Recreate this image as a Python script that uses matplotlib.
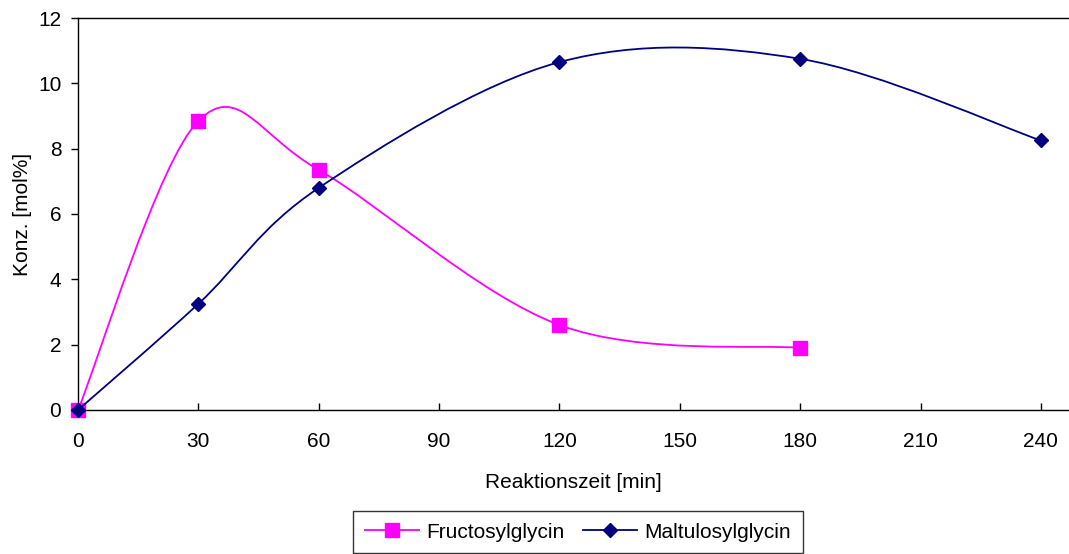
import matplotlib
matplotlib.use('Agg')
import matplotlib.pyplot as plt
from matplotlib.path import Path
from matplotlib.patches import PathPatch
from matplotlib.lines import Line2D

# data
zeit_fructo = [0, 30, 60, 120, 180]
konz_fructo = [0.0, 8.85, 7.35, 2.6, 1.9]
zeit_maltu = [0, 30, 60, 120, 180, 240]
konz_maltu = [0.0, 3.25, 6.8, 10.65, 10.75, 8.25]
x_ticks = [0, 30, 60, 90, 120, 150, 180, 210, 240]
y_ticks = [0, 2, 4, 6, 8, 10, 12]

plt.rcParams['font.family'] = ['Liberation Sans', 'DejaVu Sans']


def smooth_path(xs, ys):
    # Excel-like smoothed line: cubic bezier segments through every point
    pts = list(zip(xs, ys))
    n = len(pts)
    verts = [pts[0]]
    codes = [Path.MOVETO]
    for i in range(n - 1):
        p0 = pts[max(i - 1, 0)]
        p1 = pts[i]
        p2 = pts[i + 1]
        p3 = pts[min(i + 2, n - 1)]
        c1 = (p1[0] + (p2[0] - p0[0]) / 6, p1[1] + (p2[1] - p0[1]) / 6)
        c2 = (p2[0] - (p3[0] - p1[0]) / 6, p2[1] - (p3[1] - p1[1]) / 6)
        verts += [c1, c2, p2]
        codes += [Path.CURVE4] * 3
    return Path(verts, codes)


fig = plt.figure(figsize=(10.69, 5.54), dpi=100)
ax = fig.add_axes([0.073, 0.26, 0.927, 0.7075])

ax.add_patch(PathPatch(smooth_path(zeit_fructo, konz_fructo), fill=False,
                       edgecolor='#FF00FF', linewidth=1.3, zorder=2))
ax.plot(zeit_fructo, konz_fructo, linestyle='none', marker='s', markersize=10,
        color='#FF00FF', zorder=3, clip_on=False)
ax.add_patch(PathPatch(smooth_path(zeit_maltu, konz_maltu), fill=False,
                       edgecolor='#000080', linewidth=1.3, zorder=4))
ax.plot(zeit_maltu, konz_maltu, linestyle='none', marker='D', markersize=7.5,
        color='#000080', zorder=5, clip_on=False)

ax.set_xlim(0, 247)
ax.set_ylim(0, 12)
ax.set_xticks(x_ticks)
ax.set_yticks(y_ticks)
ax.tick_params(axis='x', labelsize=15, length=5, width=1, direction='in', pad=16)
ax.tick_params(axis='y', labelsize=15, length=5, width=1, direction='out', pad=7)
ax.spines['right'].set_visible(False)
for s in ['left', 'bottom', 'top']:
    ax.spines[s].set_linewidth(1)
ax.set_xlabel('Reaktionszeit [min]', fontsize=15, labelpad=16)
ax.set_ylabel('Konz. [mol%]', fontsize=15, labelpad=4)

handles = [
    Line2D([], [], color='#FF00FF', linewidth=1.3, marker='s', markersize=10),
    Line2D([], [], color='#000080', linewidth=1.3, marker='D', markersize=7.5),
]
leg = fig.legend(handles, ['Fructosylglycin', 'Maltulosylglycin'], loc='center',
                 bbox_to_anchor=(578 / 1069, 1 - 532 / 554), ncol=2, fontsize=15,
                 frameon=True, fancybox=False, edgecolor='black', handlelength=2.6,
                 columnspacing=0.9, handletextpad=0.35, borderpad=0.55)
leg.get_frame().set_linewidth(1)

fig.savefig('out.png', dpi=100)
